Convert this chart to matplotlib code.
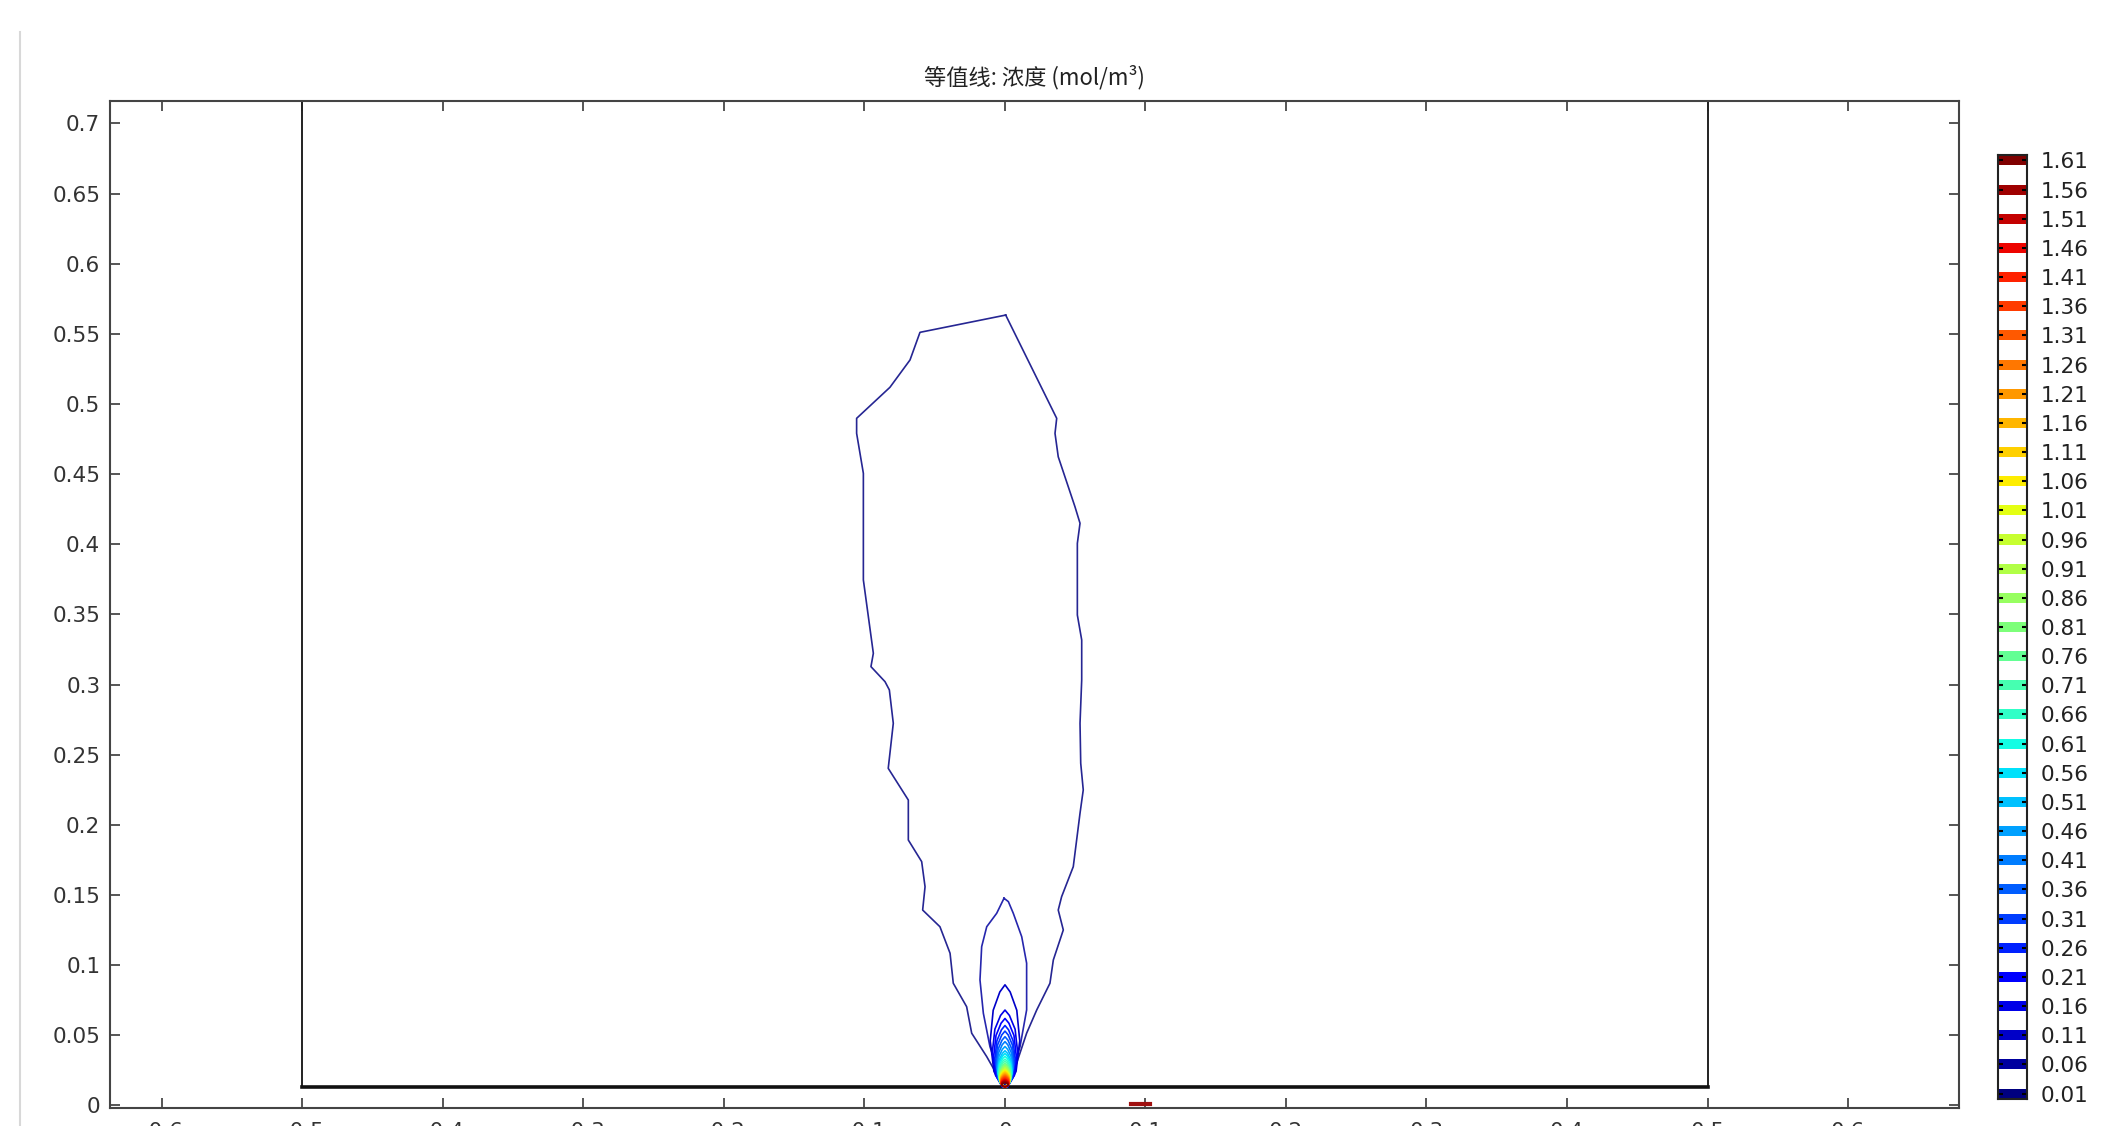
import matplotlib
matplotlib.use("Agg")
import matplotlib.pyplot as plt
from matplotlib.colors import Normalize
from matplotlib.lines import Line2D
import numpy as np

# Niveaux des isolignes (mol/m3)
levels = [0.01, 0.06, 0.11, 0.16, 0.21, 0.26, 0.31, 0.36, 0.41, 0.46, 0.51,
          0.56, 0.61, 0.66, 0.71, 0.76, 0.81, 0.86, 0.91, 0.96, 1.01, 1.06,
          1.11, 1.16, 1.21, 1.26, 1.31, 1.36, 1.41, 1.46, 1.51, 1.56, 1.61]

# Isoligne 0.01
c001_x = [0.0005, -0.0605, -0.0676, -0.0819, -0.1056, -0.1056, -0.1008, -0.1008,
          -0.1008, -0.0937, -0.0954, -0.0854, -0.0823, -0.0795, -0.0831, -0.0688,
          -0.0688, -0.0593, -0.0569, -0.0586, -0.0463, -0.0391, -0.0368, -0.0273,
          -0.0237, -0.0130, -0.0036, -0.0012, 0.0059, 0.0154, 0.0226, 0.0320,
          0.0344, 0.0415, 0.0379, 0.0403, 0.0486, 0.0534, 0.0557, 0.0539, 0.0534,
          0.0546, 0.0546, 0.0515, 0.0515, 0.0534, 0.0498, 0.0379, 0.0356, 0.0368,
          0.0005]
c001_y = [0.5634, 0.5511, 0.5314, 0.5119, 0.4898, 0.4791, 0.4506, 0.3840,
          0.3746, 0.3223, 0.3128, 0.3021, 0.2962, 0.2724, 0.2403, 0.2177,
          0.1892, 0.1738, 0.1559, 0.1393, 0.1274, 0.1085, 0.0871, 0.0704,
          0.0515, 0.0348, 0.0182, 0.0134, 0.0230, 0.0515, 0.0681, 0.0871,
          0.1037, 0.1251, 0.1393, 0.1488, 0.1702, 0.2083, 0.2249, 0.2439, 0.2724,
          0.3033, 0.3318, 0.3496, 0.4007, 0.4150, 0.4268, 0.4624, 0.4791, 0.4898,
          0.5634]

# Isoligne 0.06
c006_x = [-0.0007, -0.0059, -0.0130, -0.0166, -0.0178, -0.0154, -0.0107, -0.0036,
          -0.0007, 0.0036, 0.0107, 0.0154, 0.0154, 0.0119, 0.0059, 0.0024, -0.0007]
c006_y = [0.1477, 0.1370, 0.1274, 0.1132, 0.0895, 0.0657, 0.0419, 0.0205,
          0.0146, 0.0205, 0.0419, 0.0681, 0.1014, 0.1203, 0.1370, 0.1453, 0.1477]

# Isolignes internes (0.11 -> 1.61): hauteur de la pointe et demi-largeur
inner_tip = [0.086, 0.068, 0.062, 0.057, 0.053, 0.049, 0.0455, 0.042, 0.039,
             0.037, 0.035, 0.033, 0.0315, 0.030, 0.029, 0.028, 0.027, 0.026,
             0.0253, 0.0245, 0.0238, 0.023, 0.0222, 0.0215, 0.0207, 0.020,
             0.0192, 0.0185, 0.0177, 0.017, 0.0162]
inner_halfw = [0.0105, 0.0090, 0.0080, 0.0072, 0.0066, 0.0061, 0.0057, 0.0054,
               0.0051, 0.0049, 0.0047, 0.0045, 0.0043, 0.0041, 0.0040, 0.0038,
               0.0037, 0.0036, 0.0035, 0.0034, 0.0033, 0.0032, 0.0031, 0.0030,
               0.0029, 0.0028, 0.0027, 0.0026, 0.0025, 0.0024, 0.0023]
source_y = 0.0134

xticks = [-0.6, -0.5, -0.4, -0.3, -0.2, -0.1, 0, 0.1, 0.2, 0.3, 0.4, 0.5, 0.6]
xticklabels = ["-0.6", "-0.5", "-0.4", "-0.3", "-0.2", "-0.1", "0", "0.1",
               "0.2", "0.3", "0.4", "0.5", "0.6"]
yticks = [0, 0.05, 0.1, 0.15, 0.2, 0.25, 0.3, 0.35, 0.4, 0.45, 0.5, 0.55,
          0.6, 0.65, 0.7]
yticklabels = ["0", "0.05", "0.1", "0.15", "0.2", "0.25", "0.3", "0.35", "0.4",
               "0.45", "0.5", "0.55", "0.6", "0.65", "0.7"]

# Domaine de calcul
domain_x = [-0.5, 0.5]
domain_bottom = 0.013

cmap = matplotlib.colormaps["jet"]
norm = Normalize(vmin=levels[0], vmax=levels[-1])

fig = plt.figure(figsize=(21.14, 11.26), dpi=100)
ax = fig.add_axes([0.05203, 0.01625, 0.87465, 0.89405])

# Limites du domaine
ax.plot([domain_x[0], domain_x[0]], [domain_bottom, 1.0], color="#222222", lw=1.4)
ax.plot([domain_x[1], domain_x[1]], [domain_bottom, 1.0], color="#222222", lw=1.4)
ax.plot(domain_x, [domain_bottom, domain_bottom], color="#111111", lw=2.6)

# Isolignes externes
ax.plot(c001_x, c001_y, color=cmap(norm(levels[0])), lw=1.2, alpha=0.85)
ax.plot(c006_x, c006_y, color=cmap(norm(levels[1])), lw=1.2, alpha=0.85)

# Isolignes internes en forme de flamme
prof_h = np.array([0.0, 0.15, 0.45, 0.75, 0.93, 1.0])
prof_w = np.array([0.2, 0.75, 1.0, 0.8, 0.35, 0.0])
for lv, tip, hw in zip(levels[2:], inner_tip, inner_halfw):
    h = tip - source_y
    yy = source_y + h * prof_h
    xx = hw * prof_w
    px = np.concatenate([-xx, xx[::-1]])
    py = np.concatenate([yy, yy[::-1]])
    ax.plot(px, py, color=cmap(norm(lv)), lw=1.2)

# Petit repere rouge sur l'axe
ax.plot([0.09, 0.103], [0.0008, 0.0008], color="#a01010", lw=3, clip_on=False)

ax.set_xlim(-0.637, 0.679)
ax.set_ylim(-0.0016, 0.716)
ax.set_xticks(xticks)
ax.set_xticklabels(xticklabels)
ax.set_yticks(yticks)
ax.set_yticklabels(yticklabels)
ax.tick_params(direction="in", length=7, width=1.4, top=True, right=True,
               labelsize=15.5, pad=7, color="#555555", labelcolor="#333333")
ax.tick_params(axis="x", pad=10)
for s in ax.spines.values():
    s.set_color("#444444")
    s.set_linewidth(1.5)

fig.text(1034.5 / 2114, 1 - 77 / 1126, "等值线: 浓度 (mol/m³)",
         ha="center", va="center", fontsize=16, color="#222222",
         family=["Noto Sans CJK SC", "DejaVu Sans"])

# Legende des niveaux
cax = fig.add_axes([0.9453, 0.02398, 0.01343, 0.8384])
half = 0.0086
for lv in levels:
    cax.axhspan(lv - half, lv + half, color=cmap(norm(lv)), lw=0)
cax.set_ylim(levels[0] - 0.0094, levels[-1] + 0.0094)
cax.set_xlim(0, 1)
cax.set_xticks([])
cax.set_yticks(levels)
cax.set_yticklabels(["%.2f" % lv for lv in levels])
cax.tick_params(axis="y", direction="in", left=True, right=True,
                labelleft=False, labelright=True, length=3.5, width=1.5,
                labelsize=15.5, pad=10, color="black", labelcolor="#222222")
for s in cax.spines.values():
    s.set_color("#222222")
    s.set_linewidth(1.5)

# Bordure de fenetre a gauche
fig.add_artist(Line2D([20 / 2114, 20 / 2114], [0, 1 - 32 / 1126],
                      transform=fig.transFigure, color="#d8d8d8", lw=1.5))

fig.savefig("out.png", dpi=100)
